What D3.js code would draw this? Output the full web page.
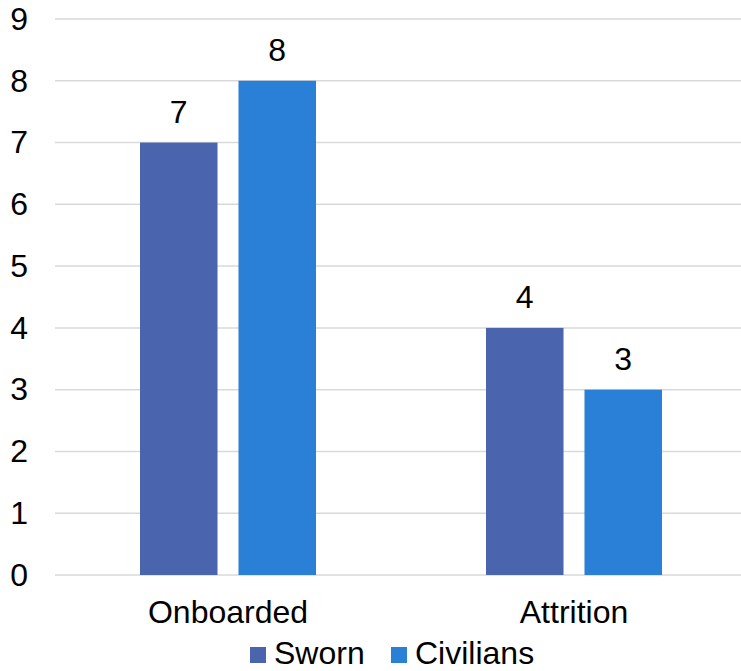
<!DOCTYPE html>
<html><head><meta charset="utf-8">
<script src="https://cdn.jsdelivr.net/npm/d3@7"></script>
<style>body{margin:0;background:#fff;}svg{display:block;font-family:"Liberation Sans",Arial,sans-serif;}</style>
</head><body>
<script>
const categories = ["Onboarded", "Attrition"];
const seriesNames = ["Sworn", "Civilians"];
const sworn = [7, 4];
const civilians = [8, 3];
const yTicks = [0,1,2,3,4,5,6,7,8,9];
const colors = ["#4A64AD", "#2A7FD7"];

const W = 741, H = 671;
const m = {left: 55, right: -6, top: 19, bottom: 96};
const FS = 32;
const svg = d3.select("body").append("svg").attr("width", W).attr("height", H);

const x0 = d3.scaleBand().domain(categories).range([m.left, W - m.right]).paddingInner(0).paddingOuter(0);
const x1 = d3.scaleBand().domain(seriesNames).range([0, x0.bandwidth()]).paddingInner(0.213).paddingOuter(0.863);
const y = d3.scaleLinear().domain([0, 9]).range([H - m.bottom, m.top]);

// gridlines
svg.append("g").selectAll("line").data(yTicks).join("line")
  .attr("x1", m.left).attr("x2", W - m.right)
  .attr("y1", d => y(d)).attr("y2", d => y(d))
  .attr("stroke", "#D9D9D9").attr("stroke-width", 1.5);

// y tick labels
const yAxis = d3.axisLeft(y).tickValues(yTicks).tickSize(0).tickPadding(27);
const ga = svg.append("g").attr("transform", `translate(${m.left},0)`).call(yAxis);
ga.select(".domain").remove();
ga.selectAll("text").attr("font-size", FS).attr("font-family", "Liberation Sans, Arial, sans-serif").attr("fill", "#000");

const rows = categories.map((c, i) => ({cat: c, vals: [sworn[i], civilians[i]]}));
const g = svg.append("g").selectAll("g").data(rows).join("g")
  .attr("transform", d => `translate(${x0(d.cat)},0)`);
g.selectAll("rect").data(d => d.vals.map((v, j) => ({s: seriesNames[j], v, j}))).join("rect")
  .attr("x", d => x1(d.s)).attr("width", x1.bandwidth())
  .attr("y", d => y(d.v)).attr("height", d => y(0) - y(d.v))
  .attr("fill", d => colors[d.j]);
g.selectAll("text").data(d => d.vals.map((v, j) => ({s: seriesNames[j], v, j}))).join("text")
  .attr("x", d => x1(d.s) + x1.bandwidth() / 2).attr("y", d => y(d.v) - 20)
  .attr("text-anchor", "middle").attr("font-size", FS).attr("fill", "#000")
  .text(d => d.v);

// x labels
const xAxis = d3.axisBottom(x0).tickSize(0).tickPadding(0);
const gx = svg.append("g").attr("transform", `translate(0,${y(0)})`).call(xAxis);
gx.select(".domain").remove();
gx.selectAll("text").attr("font-size", FS).attr("font-family", "Liberation Sans, Arial, sans-serif").attr("fill", "#000")
  .attr("dy", null).attr("y", 48);

// legend
const legendX = [250, 391];
const lg = svg.append("g").selectAll("g").data(seriesNames).join("g")
  .attr("transform", (d, i) => `translate(${legendX[i]},647)`);
lg.append("rect").attr("width", 16).attr("height", 16).attr("fill", (d, i) => colors[i]);
lg.append("text").attr("x", 24).attr("y", 17).attr("font-size", FS).attr("fill", "#000").text(d => d);
</script>
</body></html>
